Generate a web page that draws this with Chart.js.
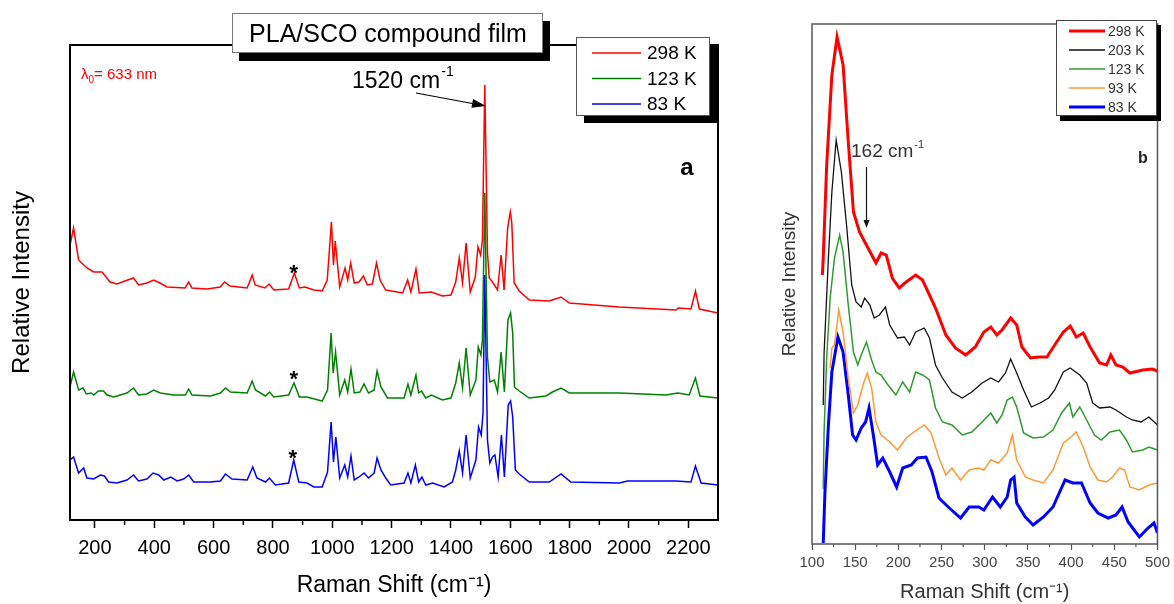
<!DOCTYPE html>
<html>
<head>
<meta charset="utf-8">
<script src="https://cdn.jsdelivr.net/npm/chart.js@4.4.1/dist/chart.umd.min.js"></script>
<style>
  body { margin: 0; background: #fff; }
  #wrap { position: relative; width: 1174px; height: 604px; overflow: hidden; }
  canvas { position: absolute; top: 0; }
</style>
</head>
<body>
<div id="wrap">
  <canvas id="chartA" width="760" height="604" style="left:0"></canvas>
  <canvas id="chartB" width="414" height="604" style="left:760px"></canvas>
</div>
<script>
// ---- panel a : [Raman shift (cm-1), intensity (arb.)] ----
const spectrumA298 = [[116,275],[128,292],[145,260],[173,252],[196,248],[224,248],[251,238],[274,236],[301,239],[330,242],[347,235],[375,237],[398,240],[419,237],[443,233],[504,232],[516,238],[527,232],[578,231],[622,233],[637,238],[655,234],[713,232],[730,245],[740,235],[773,232],[787,236],[803,230],[853,231],[872,247],[889,232],[908,233],[938,230],[966,229],[983,240],[997,298],[1004,255],[1010,279],[1025,233],[1043,252],[1052,240],[1062,257],[1074,237],[1090,238],[1105,244],[1118,235],[1135,236],[1149,257],[1161,240],[1180,230],[1237,227],[1254,240],[1265,228],[1282,251],[1293,227],[1334,228],[1371,224],[1400,225],[1416,238],[1428,262],[1439,237],[1451,277],[1465,228],[1482,243],[1491,273],[1500,265],[1506,280],[1514,435],[1523,267],[1529,242],[1540,238],[1557,230],[1569,265],[1579,230],[1591,292],[1600,308],[1605,297],[1613,237],[1630,229],[1664,220],[1731,219],[1771,223],[1799,217],[1967,213],[2158,210],[2167,212],[2209,211],[2224,229],[2237,211],[2300,207]];
const spectrumA123 = [[116,133],[128,148],[145,130],[160,132],[171,126],[187,127],[196,125],[212,129],[229,129],[241,125],[263,123],[308,127],[330,132],[347,125],[375,126],[398,130],[420,127],[443,126],[465,125],[505,125],[516,131],[527,125],[589,124],[623,127],[640,132],[657,128],[713,127],[730,139],[741,130],[775,124],[788,128],[803,123],[853,125],[871,137],[889,123],[915,123],[966,119],[984,130],[996,187],[1003,147],[1011,168],[1025,125],[1042,140],[1052,128],[1063,151],[1074,127],[1093,128],[1107,136],[1122,127],[1141,130],[1151,149],[1164,133],[1186,122],[1242,122],[1255,136],[1265,125],[1282,145],[1291,127],[1301,129],[1315,122],[1334,125],[1371,120],[1400,122],[1416,137],[1428,157],[1439,132],[1451,172],[1465,125],[1484,140],[1492,173],[1501,165],[1506,180],[1514,327],[1523,163],[1531,138],[1546,140],[1557,128],[1569,168],[1580,128],[1592,200],[1601,207],[1608,187],[1614,133],[1630,129],[1664,122],[1720,124],[1742,128],[1771,132],[1799,127],[1967,127],[2125,125],[2164,127],[2203,125],[2224,142],[2239,124],[2300,122]];
const spectrumA83 = [[116,60],[128,63],[145,47],[162,52],[173,42],[196,41],[218,45],[232,44],[246,38],[274,37],[308,40],[330,45],[347,39],[375,41],[396,47],[415,45],[432,40],[456,43],[477,39],[499,41],[516,45],[533,38],[589,38],[623,39],[640,46],[662,41],[713,40],[732,53],[746,42],[775,38],[788,42],[808,35],[853,37],[870,60],[887,38],[915,37],[938,33],[966,33],[984,48],[996,98],[1004,58],[1012,83],[1025,42],[1042,55],[1052,43],[1063,64],[1074,40],[1090,43],[1107,47],[1122,42],[1141,47],[1151,62],[1164,50],[1180,42],[1197,35],[1242,37],[1255,47],[1265,37],[1280,55],[1291,38],[1302,43],[1315,35],[1338,37],[1377,33],[1405,38],[1416,50],[1428,69],[1439,47],[1451,85],[1465,42],[1484,60],[1493,93],[1502,85],[1508,107],[1514,245],[1523,80],[1531,57],[1540,63],[1548,65],[1559,43],[1570,85],[1580,43],[1593,115],[1601,119],[1608,103],[1617,50],[1630,46],[1664,38],[1731,38],[1771,46],[1804,38],[1967,37],[1995,39],[2158,39],[2209,38],[2224,54],[2243,37],[2300,35]];
const labelsA = ['298 K', '123 K', '83 K'];
const ticksA = [200, 400, 600, 800, 1000, 1200, 1400, 1600, 1800, 2000, 2200];
const minorTicksA = [300, 500, 700, 900, 1100, 1300, 1500, 1700, 1900, 2100];

// ---- panel b ----
const spectrumB298 = [[112,269],[113,286],[117,379],[123,469],[129,507],[136,479],[142,402],[148,332],[155,312],[163,299],[171,286],[174,281],[180,291],[186,289],[193,266],[201,256],[209,262],[220,269],[228,264],[236,249],[243,236],[255,209],[266,196],[278,189],[289,197],[299,212],[307,217],[314,209],[320,214],[330,226],[337,219],[343,197],[353,186],[362,187],[372,187],[381,199],[391,212],[399,218],[406,207],[414,211],[422,197],[433,181],[441,179],[446,189],[452,179],[460,177],[468,171],[483,174],[494,175],[500,173]];
const spectrumB203 = [[113,139],[114,191],[119,286],[123,352],[128,404],[134,372],[140,319],[146,259],[151,242],[157,237],[161,246],[167,239],[172,226],[178,229],[185,237],[190,219],[199,206],[207,207],[213,199],[220,212],[230,216],[236,206],[243,179],[251,166],[262,152],[274,146],[285,152],[297,161],[307,166],[316,162],[324,171],[330,185],[337,171],[345,154],[354,137],[364,141],[374,146],[381,154],[391,172],[399,176],[410,169],[418,161],[425,141],[433,136],[445,137],[452,134],[464,127],[471,124],[481,122],[490,127],[500,119]];
const spectrumB123 = [[113,55],[114,112],[117,186],[121,246],[126,286],[132,309],[136,292],[142,239],[148,192],[153,179],[157,189],[163,202],[169,184],[174,172],[180,169],[188,159],[197,149],[205,162],[213,152],[220,172],[228,169],[236,164],[243,136],[251,122],[262,119],[274,109],[285,112],[297,122],[307,131],[314,121],[320,129],[326,144],[332,147],[337,137],[345,111],[356,106],[368,107],[379,114],[389,131],[398,141],[402,127],[410,137],[418,124],[427,109],[435,104],[445,112],[456,114],[464,104],[471,92],[483,94],[490,97],[500,94]];
const spectrumB93 = [[121,176],[123,196],[126,199],[131,234],[136,212],[142,166],[148,131],[153,139],[159,159],[164,171],[169,156],[174,122],[180,109],[190,102],[199,94],[209,106],[218,112],[230,119],[238,111],[247,86],[255,69],[262,76],[272,64],[282,74],[293,76],[299,74],[307,84],[316,81],[326,91],[332,109],[337,84],[347,67],[356,64],[368,61],[379,74],[391,101],[400,107],[406,112],[414,97],[422,77],[431,64],[441,62],[448,67],[456,76],[462,74],[468,57],[479,54],[490,59],[500,61]];
const spectrumB83 = [[113,1],[115,52],[119,119],[123,172],[130,207],[136,192],[142,149],[147,109],[151,104],[157,116],[162,122],[166,136],[171,109],[176,79],[182,86],[190,72],[198,57],[205,76],[215,79],[222,86],[232,87],[239,72],[247,46],[259,36],[272,26],[282,37],[293,37],[299,34],[309,47],[318,37],[326,47],[330,64],[334,67],[337,41],[347,27],[356,19],[368,27],[379,37],[393,64],[402,61],[412,61],[422,41],[431,31],[443,26],[452,29],[459,37],[466,22],[479,7],[489,16],[496,21],[500,11]];
const labelsB = ['298 K', '203 K', '123 K', '93 K', '83 K'];
const ticksB = [100, 150, 200, 250, 300, 350, 400, 450, 500];
const minorTicksB = [125, 175, 225, 275, 325, 375, 425, 475];

const FONT = "'Liberation Sans', Arial, Helvetica, sans-serif";

function toXY(pairs) {
  return pairs.map(p => ({ x: p[0], y: p[1] }));
}

function line(label, pairs, color, width) {
  return { label: label, data: toXY(pairs), borderColor: color, backgroundColor: color,
           borderWidth: width, pointRadius: 0, tension: 0, fill: false };
}

function shadowBox(ctx, x, y, w, h, dx, dy, edge) {
  ctx.fillStyle = '#000';
  ctx.fillRect(x + dx, y + dy, w, h);
  ctx.fillStyle = '#fff';
  ctx.fillRect(x, y, w, h);
  ctx.strokeStyle = edge;
  ctx.lineWidth = 1;
  ctx.strokeRect(x + 0.5, y + 0.5, w - 1, h - 1);
}

function arrow(ctx, x1, y1, x2, y2, head, half) {
  const a = Math.atan2(y2 - y1, x2 - x1);
  ctx.beginPath();
  ctx.moveTo(x1, y1);
  ctx.lineTo(x2 - Math.cos(a) * head * 0.6, y2 - Math.sin(a) * head * 0.6);
  ctx.stroke();
  ctx.beginPath();
  ctx.moveTo(x2, y2);
  ctx.lineTo(x2 - Math.cos(a) * head - Math.sin(a) * half, y2 - Math.sin(a) * head + Math.cos(a) * half);
  ctx.lineTo(x2 - Math.cos(a) * head + Math.sin(a) * half, y2 - Math.sin(a) * head - Math.cos(a) * half);
  ctx.closePath();
  ctx.fill();
}

function minorTicks(chart, values, len, color, width) {
  const ctx = chart.ctx, xs = chart.scales.x, bottom = chart.chartArea.bottom;
  ctx.strokeStyle = color;
  ctx.lineWidth = width;
  values.forEach(v => {
    const px = xs.getPixelForValue(v);
    ctx.beginPath();
    ctx.moveTo(px, bottom);
    ctx.lineTo(px, bottom + len);
    ctx.stroke();
  });
}

function decorA(chart) {
  const ctx = chart.ctx, area = chart.chartArea;
  ctx.save();
  minorTicks(chart, minorTicksA, 5, '#000', 1.5);
  ctx.strokeStyle = '#000';
  ctx.lineWidth = 2;
  ctx.strokeRect(area.left, area.top, area.right - area.left, area.bottom - area.top);

  // title box
  shadowBox(ctx, 232, 13, 311, 40, 7, 8, '#777');
  ctx.fillStyle = '#000';
  ctx.font = '25px ' + FONT;
  ctx.textAlign = 'center';
  ctx.textBaseline = 'alphabetic';
  ctx.fillText('PLA/SCO compound film', 388, 42);

  // legend
  shadowBox(ctx, 576, 37, 134, 79, 8, 7, '#555');
  ctx.textAlign = 'left';
  ctx.textBaseline = 'middle';
  ctx.font = '19px ' + FONT;
  chart.data.datasets.forEach((ds, i) => {
    const y = 53 + i * 25.5;
    ctx.strokeStyle = ds.borderColor;
    ctx.lineWidth = 1.5;
    ctx.beginPath(); ctx.moveTo(592, y); ctx.lineTo(641, y); ctx.stroke();
    ctx.fillStyle = '#000';
    ctx.fillText(ds.label, 647, y + 1);
  });

  // lambda label
  ctx.textBaseline = 'alphabetic';
  ctx.fillStyle = '#ff0000';
  ctx.font = '15px ' + FONT;
  ctx.fillText('\u03bb', 81, 79);
  let x = 81 + ctx.measureText('\u03bb').width;
  ctx.font = '10px ' + FONT;
  ctx.fillText('0', x, 83);
  x += ctx.measureText('0').width;
  ctx.font = '15px ' + FONT;
  ctx.fillText('= 633 nm', x, 79);

  // 1520 cm-1 label and arrow
  ctx.fillStyle = '#000';
  ctx.font = '23px ' + FONT;
  ctx.fillText('1520 cm', 352, 88);
  x = 352 + ctx.measureText('1520 cm').width + 1;
  ctx.font = '14px ' + FONT;
  ctx.fillText('-1', x, 76);
  ctx.strokeStyle = '#000';
  ctx.lineWidth = 1.2;
  arrow(ctx, 416, 93, 486, 106, 14, 4.5);

  // panel letter
  ctx.font = 'bold 24px ' + FONT;
  ctx.textAlign = 'center';
  ctx.fillText('a', 687, 175);

  // asterisks above the 870 cm-1 band
  ctx.font = 'bold 22px ' + FONT;
  const ax = chart.scales.x.getPixelForValue(870);
  ctx.fillText('*', ax, 280);
  ctx.fillText('*', ax, 386);
  ctx.fillText('*', ax - 1, 465);
  ctx.restore();
}

function decorB(chart) {
  const ctx = chart.ctx, area = chart.chartArea;
  ctx.save();
  minorTicks(chart, minorTicksB, 3, '#555', 1.2);
  ctx.strokeStyle = '#555';
  ctx.lineWidth = 1.5;
  ctx.strokeRect(area.left, area.top, area.right - area.left, area.bottom - area.top);

  // legend
  shadowBox(ctx, 296, 20, 101, 96, 4, 5, '#444');
  ctx.textAlign = 'left';
  ctx.textBaseline = 'middle';
  ctx.font = '14px ' + FONT;
  chart.data.datasets.forEach((ds, i) => {
    const y = 31 + i * 19;
    ctx.strokeStyle = ds.borderColor;
    ctx.lineWidth = ds.borderWidth;
    ctx.beginPath(); ctx.moveTo(309, y); ctx.lineTo(345, y); ctx.stroke();
    ctx.fillStyle = '#333';
    ctx.fillText(ds.label, 348, y + 1);
  });

  // 162 cm-1 label and arrow
  ctx.textBaseline = 'alphabetic';
  ctx.fillStyle = '#333';
  ctx.font = '19px ' + FONT;
  ctx.fillText('162 cm', 91, 157);
  const x = 91 + ctx.measureText('162 cm').width + 1;
  ctx.font = '11px ' + FONT;
  ctx.fillText('-1', x, 148);
  ctx.strokeStyle = '#111';
  ctx.fillStyle = '#111';
  ctx.lineWidth = 1.2;
  arrow(ctx, 106.5, 167, 106.5, 228, 8, 3);

  ctx.fillStyle = '#222';
  ctx.font = 'bold 16px ' + FONT;
  ctx.textAlign = 'center';
  ctx.fillText('b', 383, 163);
  ctx.restore();
}

function intFormat(v) { return String(v); }

new Chart(document.getElementById('chartA'), {
  type: 'line',
  data: {
    datasets: [
      line(labelsA[0], spectrumA298, '#ff0000', 1.5),
      line(labelsA[1], spectrumA123, '#008000', 1.5),
      line(labelsA[2], spectrumA83, '#0000ff', 1.5)
    ]
  },
  options: {
    responsive: false,
    animation: false,
    layout: { padding: { top: 45, right: 42, left: 0, bottom: 0 } },
    plugins: { legend: { display: false }, tooltip: { enabled: false } },
    scales: {
      x: {
        type: 'linear', min: 116, max: 2300,
        afterBuildTicks: s => { s.ticks = ticksA.map(v => ({ value: v })); },
        afterFit: s => { s.height = 84; },
        ticks: { autoSkip: false, maxRotation: 0, padding: 8, color: '#000',
                 font: { family: FONT, size: 20 }, callback: intFormat },
        grid: { drawOnChartArea: false, tickLength: 8, tickColor: '#000', tickWidth: 1.5 },
        border: { display: false },
        title: { display: true, text: 'Raman Shift (cm\u207b\u00b9)', color: '#000',
                 font: { family: FONT, size: 23 }, padding: { top: 0, bottom: 5 } }
      },
      y: {
        min: 0, max: 475,
        afterFit: s => { s.width = 70; },
        ticks: { display: false },
        grid: { display: false },
        border: { display: false },
        title: { display: true, text: 'Relative Intensity', color: '#000',
                 font: { family: FONT, size: 24 }, padding: { top: 8, bottom: 0 } }
      }
    }
  },
  plugins: [{ id: 'decorA', afterDraw: decorA }]
});

new Chart(document.getElementById('chartB'), {
  type: 'line',
  data: {
    datasets: [
      line(labelsB[0], spectrumB298, '#ff0000', 3),
      line(labelsB[1], spectrumB203, '#111111', 1.3),
      line(labelsB[2], spectrumB123, '#2e9a2e', 1.5),
      line(labelsB[3], spectrumB93, '#ff9933', 1.5),
      line(labelsB[4], spectrumB83, '#0000ff', 3)
    ]
  },
  options: {
    responsive: false,
    animation: false,
    layout: { padding: { top: 24, right: 14, left: 0, bottom: 0 } },
    plugins: { legend: { display: false }, tooltip: { enabled: false } },
    scales: {
      x: {
        type: 'linear', min: 100, max: 500,
        afterBuildTicks: s => { s.ticks = ticksB.map(v => ({ value: v })); },
        afterFit: s => { s.height = 60; },
        ticks: { autoSkip: false, maxRotation: 0, padding: 4, color: '#444',
                 font: { family: FONT, size: 15 }, callback: intFormat },
        grid: { drawOnChartArea: false, tickLength: 6, tickColor: '#555', tickWidth: 1.2 },
        border: { display: false },
        title: { display: true, text: 'Raman Shift (cm\u207b\u00b9)', color: '#333',
                 font: { family: FONT, size: 20 }, padding: { top: 0, bottom: 0 } }
      },
      y: {
        min: 0, max: 520,
        afterFit: s => { s.width = 52; },
        ticks: { display: false },
        grid: { display: false },
        border: { display: false },
        title: { display: true, text: 'Relative Intensity', color: '#333',
                 font: { family: FONT, size: 19 }, padding: { top: 18, bottom: 0 } }
      }
    }
  },
  plugins: [{ id: 'decorB', afterDraw: decorB }]
});
</script>
</body>
</html>
